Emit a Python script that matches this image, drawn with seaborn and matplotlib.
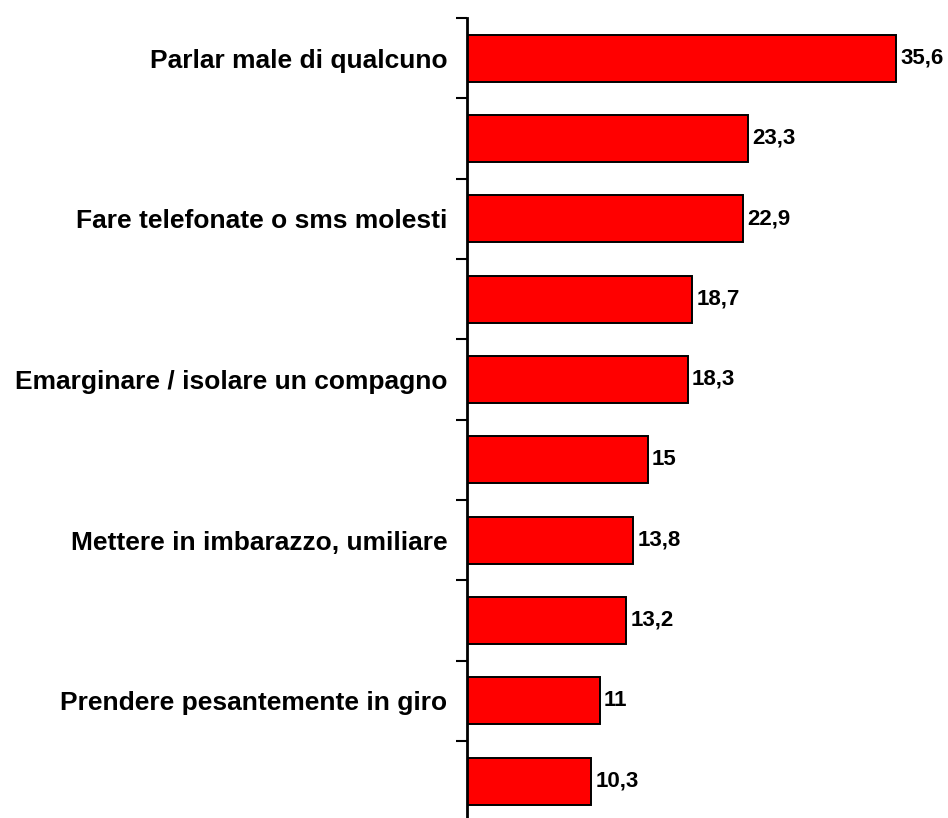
import matplotlib
matplotlib.use("Agg")
import matplotlib.pyplot as plt
import seaborn as sns
import pandas as pd

labels = ["Parlar male di qualcuno", "", "Fare telefonate o sms molesti", "",
          "Emarginare / isolare un compagno", "", "Mettere in imbarazzo, umiliare", "",
          "Prendere pesantemente in giro", ""]
values = [35.6, 23.3, 22.9, 18.7, 18.3, 15, 13.8, 13.2, 11, 10.3]
value_text = ["35,6", "23,3", "22,9", "18,7", "18,3", "15", "13,8", "13,2", "11", "10,3"]

sns.set_theme(style="white")
plt.rcParams["font.family"] = ["Liberation Sans", "DejaVu Sans"]
plt.rcParams["text.color"] = "black"
plt.rcParams["ytick.color"] = "black"

df = pd.DataFrame({"item": [f"i{k}" for k in range(len(values))], "value": values})

fig = plt.figure(figsize=(9.48, 8.18), dpi=100)
ax = fig.add_axes([467 / 948, -3.3 / 818, 481 / 948, 803.3 / 818])
sns.barplot(data=df, y="item", x="value", orient="h", color="#ff0000",
            saturation=1, edgecolor="black", linewidth=1.4, width=0.585, ax=ax)

ax.set_xlim(0, 39.9)
ax.set_ylim(len(values) - 0.5, -0.5)
for s in ["top", "right", "bottom"]:
    ax.spines[s].set_visible(False)
ax.spines["left"].set_linewidth(2)
ax.spines["left"].set_color("black")
ax.set_xticks([])
ax.set_xlabel("")
ax.set_ylabel("")

ax.set_yticks(range(len(values)))
ax.set_yticklabels(labels, fontsize=19, fontweight="bold", color="black")
ax.tick_params(axis="y", which="major", length=0, pad=14, labelcolor="black")
ax.set_yticks([k - 0.5 for k in range(len(values))], minor=True)
ax.tick_params(axis="y", which="minor", length=8, width=1.5, color="black", direction="out", left=True)

for k, (v, t) in enumerate(zip(values, value_text)):
    ax.text(v + 0.35, k, t, va="center", ha="left", fontsize=16, fontweight="bold", color="black")

fig.savefig("out.png", dpi=100)
